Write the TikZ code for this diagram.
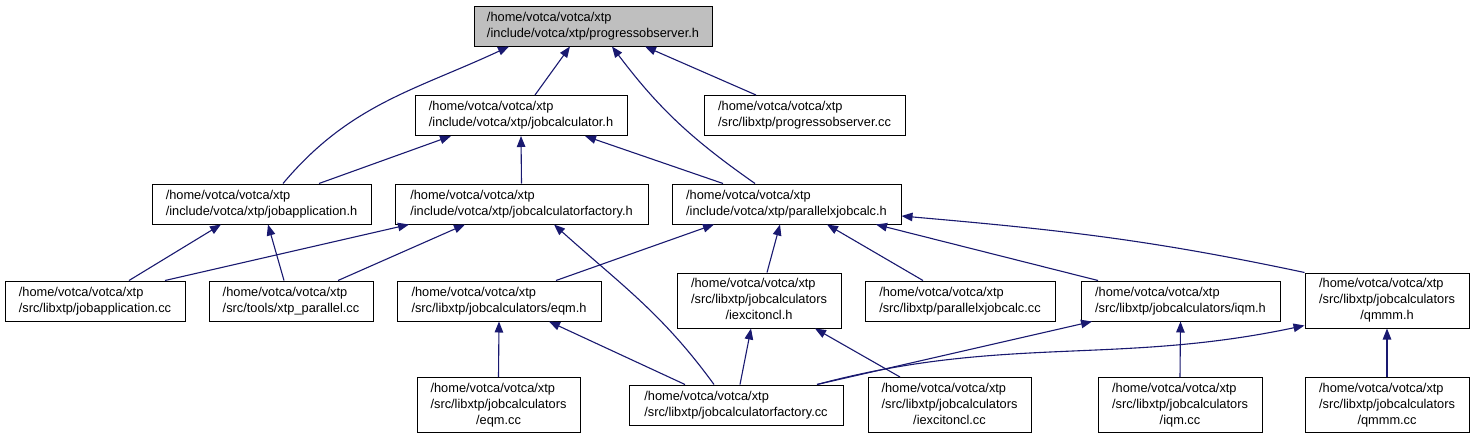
\documentclass[tikz,border=0pt]{standalone}
\usepackage{fontspec}
\setmainfont{Liberation Sans}
\usetikzlibrary{arrows.meta}
\definecolor{edgeblue}{HTML}{191970}
\definecolor{rootgray}{HTML}{BFBFBF}
\newcommand{\threeln}[3]{\begin{tabular}{@{}l@{}}#1\\#2\\\multicolumn{1}{@{}c@{}}{#3}\end{tabular}}

\begin{document}
\begin{tikzpicture}[x=1pt, y=1pt,
    every node/.style={font=\fontsize{12.8}{16}\selectfont},
    file/.style={draw=black, line width=1pt, fill=white, align=left,
      inner sep=0pt, minimum height=40pt},
    tall/.style={file, minimum height=55pt},
    dep/.style={draw=edgeblue, line width=1.1pt,
      -{Triangle[length=11pt, width=8.5pt]}, fill=none}]
  \fill[white] (0,0) rectangle (1475,-439);
  \useasboundingbox (0,0) rectangle (1475,-439);

  %% ---------- header and its direct includers ----------
  \node[file, fill=rootgray, minimum width=238pt] (po) at (593,-26)
    {/home/votca/votca/xtp\\/include/votca/xtp/progressobserver.h};
  \node[file, minimum width=212pt] (jc) at (521,-115.5)
    {/home/votca/votca/xtp\\/include/votca/xtp/jobcalculator.h};
  \node[file, minimum width=201pt] (pocc) at (804.5,-115.5)
    {/home/votca/votca/xtp\\/src/libxtp/progressobserver.cc};

  %% ---------- second level ----------
  \node[file, minimum width=219pt] (ja) at (261.5,-204)
    {/home/votca/votca/xtp\\/include/votca/xtp/jobapplication.h};
  \node[file, minimum width=253pt] (jcf) at (521.5,-204)
    {/home/votca/votca/xtp\\/include/votca/xtp/jobcalculatorfactory.h};
  \node[file, minimum width=229pt] (px) at (786.5,-204)
    {/home/votca/votca/xtp\\/include/votca/xtp/parallelxjobcalc.h};

  %% ---------- third level ----------
  \node[file, minimum width=180pt] (jacc) at (95,-301)
    {/home/votca/votca/xtp\\/src/libxtp/jobapplication.cc};
  \node[file, minimum width=164pt] (xtpp) at (291,-301)
    {/home/votca/votca/xtp\\/src/tools/xtp\_parallel.cc};
  \node[file, minimum width=204pt] (eqmh) at (499,-301)
    {/home/votca/votca/xtp\\/src/libxtp/jobcalculators/eqm.h};
  \node[tall, minimum width=164pt] (iexh) at (759,-300.5)
    {\threeln{/home/votca/votca/xtp}{/src/libxtp/jobcalculators}{/iexcitoncl.h}};
  \node[file, minimum width=190pt] (pxcc) at (960,-301)
    {/home/votca/votca/xtp\\/src/libxtp/parallelxjobcalc.cc};
  \node[file, minimum width=199pt] (iqmh) at (1180.5,-301)
    {/home/votca/votca/xtp\\/src/libxtp/jobcalculators/iqm.h};
  \node[tall, minimum width=164pt] (qmmmh) at (1387,-300.5)
    {\threeln{/home/votca/votca/xtp}{/src/libxtp/jobcalculators}{/qmmm.h}};

  %% ---------- bottom row ----------
  \node[tall, minimum width=163pt] (eqmcc) at (498.5,-405)
    {\threeln{/home/votca/votca/xtp}{/src/libxtp/jobcalculators}{/eqm.cc}};
  \node[file, minimum width=214pt] (jcfcc) at (736,-405)
    {/home/votca/votca/xtp\\/src/libxtp/jobcalculatorfactory.cc};
  \node[tall, minimum width=163pt] (iexcc) at (949.5,-405)
    {\threeln{/home/votca/votca/xtp}{/src/libxtp/jobcalculators}{/iexcitoncl.cc}};
  \node[tall, minimum width=164pt] (iqmcc) at (1180,-405)
    {\threeln{/home/votca/votca/xtp}{/src/libxtp/jobcalculators}{/iqm.cc}};
  \node[tall, minimum width=164pt] (qmmmcc) at (1387,-405)
    {\threeln{/home/votca/votca/xtp}{/src/libxtp/jobcalculators}{/qmmm.cc}};

  %% ---------- include edges (tip at the included file) ----------
  \draw[dep] ([xshift=21.5pt]ja.north) to[out=50, in=-155] ([xshift=-84pt]po.south);
  \draw[dep] ([xshift=14pt]jc.north) -- ([xshift=-23pt]po.south);
  \draw[dep] ([xshift=-31.5pt]px.north) to[out=145, in=-53] ([xshift=19pt]po.south);
  \draw[dep] ([xshift=-48.5pt]pocc.north) -- ([xshift=52pt]po.south);

  \draw[dep] ([xshift=57.5pt]ja.north) -- ([xshift=-70pt]jc.south);
  \draw[dep] (jcf.north) -- (jc.south);
  \draw[dep] ([xshift=-63.5pt]px.north) -- ([xshift=64pt]jc.south);

  \draw[dep] ([xshift=34pt]jacc.north) -- ([xshift=-40.5pt]ja.south);
  \draw[dep] ([xshift=-7pt]xtpp.north) -- ([xshift=6.5pt]ja.south);
  \draw[dep] ([xshift=70pt]jacc.north) -- ([xshift=-112.5pt]jcf.south);
  \draw[dep] ([xshift=47pt]xtpp.north) -- ([xshift=-56.5pt]jcf.south);
  \draw[dep] ([xshift=-22pt]jcfcc.north) to[out=126, in=-42] ([xshift=32.5pt]jcf.south);

  \draw[dep] ([xshift=57pt]eqmh.north) -- ([xshift=-72.5pt]px.south);
  \draw[dep] ([xshift=8pt]iexh.north) -- ([xshift=-6.5pt]px.south);
  \draw[dep] ([xshift=-37pt]pxcc.north) -- ([xshift=40.5pt]px.south);
  \draw[dep] ([xshift=-82.5pt]iqmh.north) -- ([xshift=89.5pt]px.south);
  \draw[dep] (qmmmh.north west) to[out=168, in=-5] ([yshift=-12pt]px.east);

  \draw[dep] (eqmcc.north) -- (eqmh.south);
  \draw[dep] ([xshift=-51pt]jcfcc.north) -- ([xshift=50pt]eqmh.south);
  \draw[dep] ([xshift=4pt]jcfcc.north) -- ([xshift=-8pt]iexh.south);
  \draw[dep] ([xshift=-49.5pt]iexcc.north) -- ([xshift=56pt]iexh.south);
  \draw[dep] ([xshift=81pt]jcfcc.north) -- ([xshift=-88.5pt]iqmh.south);
  \draw[dep] ([xshift=81pt]jcfcc.north) to[out=15, in=-168] ([yshift=3pt]qmmmh.south west);
  \draw[dep] (iqmcc.north) -- (iqmh.south);
  \draw[dep] (qmmmcc.north) -- (qmmmh.south);
\end{tikzpicture}
\end{document}
